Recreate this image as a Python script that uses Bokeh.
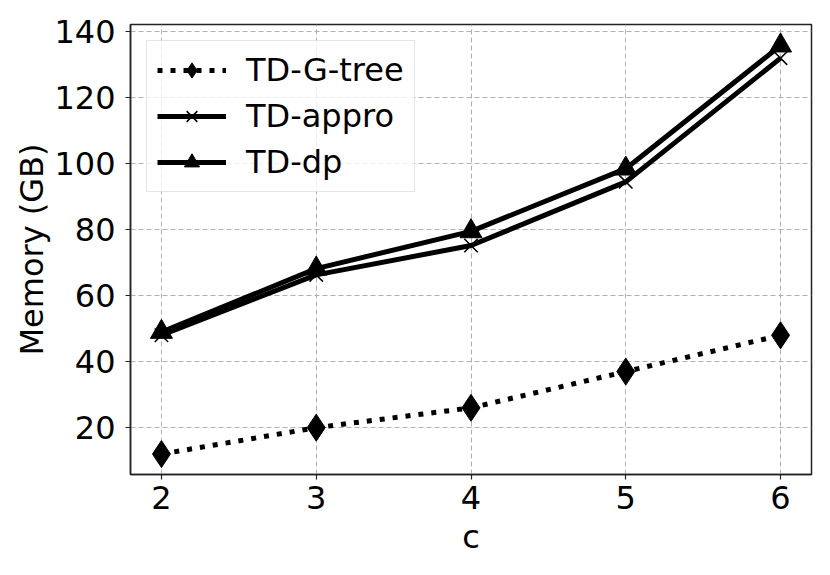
from bokeh.plotting import figure
from bokeh.models import FixedTicker, Range1d
from bokeh.embed import file_html
from bokeh.resources import INLINE

# ---- data ----
c_values = [2, 3, 4, 5, 6]
td_gtree = [12, 20, 26, 37, 48]
td_appro = [48, 66.3, 75.2, 94.5, 132]
td_dp = [49, 68.2, 79.5, 98.5, 135.8]
x_ticks = [2, 3, 4, 5, 6]
y_ticks = [20, 40, 60, 80, 100, 120, 140]

FONT = "DejaVu Sans"

p = figure(width=814, height=559, output_backend="svg", toolbar_location=None,
           x_range=Range1d(1.8, 6.2), y_range=Range1d(5.8, 142.2),
           min_border_left=130, min_border_right=3, min_border_top=24, min_border_bottom=85)

p.background_fill_color = "white"
p.border_fill_color = "white"
p.outline_line_color = "#222222"
p.outline_line_width = 1.5

# grid
for g in (p.xgrid, p.ygrid):
    g.grid_line_color = "#b0b0b0"
    g.grid_line_dash = "5 3"
    g.grid_line_width = 1
p.xgrid.ticker = FixedTicker(ticks=x_ticks)
p.ygrid.ticker = FixedTicker(ticks=y_ticks)

# axes
p.xaxis.ticker = FixedTicker(ticks=x_ticks)
p.yaxis.ticker = FixedTicker(ticks=y_ticks)
for ax in (p.xaxis, p.yaxis):
    ax.axis_line_color = "#222222"
    ax.axis_line_width = 1.5
    ax.major_tick_line_color = "#222222"
    ax.major_tick_line_width = 1.2
    ax.major_tick_in = 0
    ax.major_tick_out = 5
    ax.minor_tick_line_color = None
    ax.major_label_text_font = FONT
    ax.major_label_text_font_size = "32px"
    ax.major_label_text_color = "black"
    ax.axis_label_text_font = FONT
    ax.axis_label_text_font_size = "32px"
    ax.axis_label_text_font_style = "normal"
    ax.axis_label_text_color = "black"
p.yaxis.major_label_standoff = 10
p.xaxis.major_label_standoff = 6
p.yaxis.axis_label_standoff = 0
p.xaxis.axis_label_standoff = 6
p.xaxis.axis_label = "c"
p.yaxis.axis_label = "Memory (GB)"

# series
p.line(c_values, td_gtree, line_color="black", line_width=5, line_dash="5 8",
       legend_label="TD-G-tree")
p.scatter(c_values, td_gtree, marker="diamond", size=27, fill_color="black",
          line_color="black", legend_label="TD-G-tree")

p.line(c_values, td_appro, line_color="black", line_width=5, legend_label="TD-appro")
p.scatter(c_values, td_appro, marker="x", size=19, line_color="black", line_width=1.5,
          legend_label="TD-appro")

p.line(c_values, td_dp, line_color="black", line_width=5, legend_label="TD-dp")
p.scatter(c_values, td_dp, marker="triangle", size=22, fill_color="black",
          line_color="black", legend_label="TD-dp")

lg = p.legend[0]
lg.location = "top_left"
lg.margin = 16
lg.padding = 10
lg.spacing = 8
lg.glyph_width = 69
lg.glyph_height = 38
lg.label_standoff = 20
lg.label_text_font = FONT
lg.label_text_font_size = "32px"
lg.label_text_color = "black"
lg.border_line_color = "#cccccc"
lg.border_line_width = 1.2
lg.background_fill_color = "white"
lg.background_fill_alpha = 0.8

open("out.html", "w").write(file_html(p, INLINE))
